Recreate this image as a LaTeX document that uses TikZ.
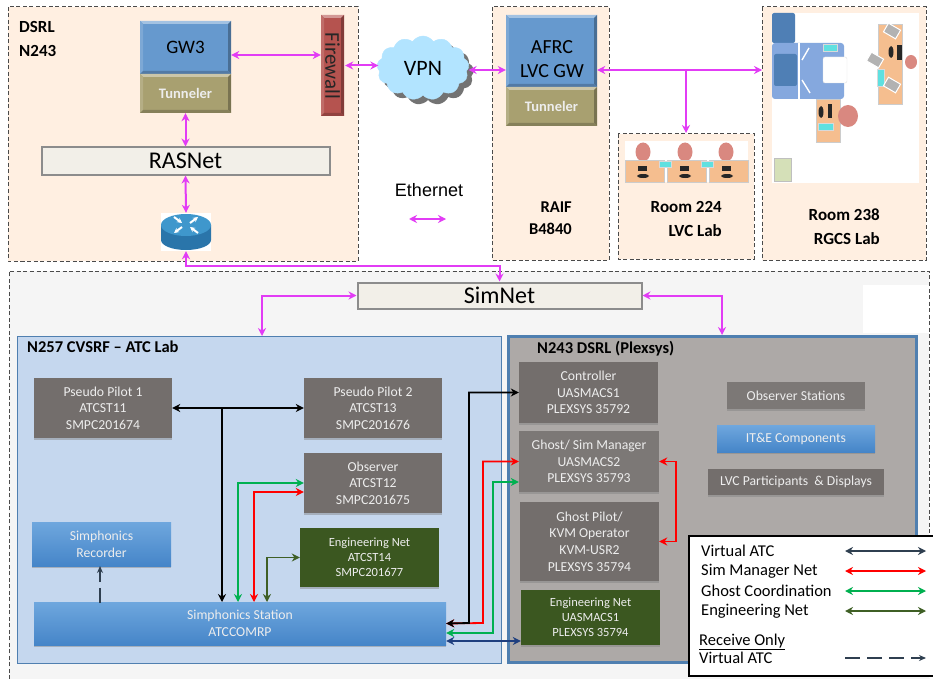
\documentclass[tikz,border=0pt]{standalone}
\usepackage{fontspec}
\setmainfont{Carlito}
\newfontfamily\arialfont{Liberation Sans}
\usetikzlibrary{arrows.meta,shapes.symbols,shadows,calc}
\definecolor{peach}{HTML}{FFEFE1}
\definecolor{dashc}{HTML}{4A4A4A}
\definecolor{magc}{HTML}{E23CF5}
\definecolor{grayb}{HTML}{736E6C}
\definecolor{grayc}{HTML}{7C7876}
\definecolor{engb}{HTML}{3B5720}
\definecolor{blt}{HTML}{6FA7DE}
\definecolor{blb}{HTML}{4585C8}
\definecolor{gwb}{HTML}{6699CE}
\definecolor{tunb}{HTML}{A8A070}
\definecolor{fwb}{HTML}{B5534F}
\definecolor{netf}{HTML}{F2EFE8}
\definecolor{labf}{HTML}{C5D7EE}
\definecolor{plxf}{HTML}{ADA9A7}
\definecolor{frameb}{HTML}{4F7FB0}
\definecolor{gcol}{HTML}{00B050}
\definecolor{ecol}{HTML}{3F5F25}
\definecolor{vcol}{HTML}{2F3F50}
\definecolor{ncol}{HTML}{1F3F7F}
\definecolor{deskc}{HTML}{F5BE8F}
\definecolor{chairc}{HTML}{D98880}
\definecolor{tagc}{HTML}{5FE0E0}
\definecolor{furnd}{HTML}{4F7FB5}
\definecolor{furnl}{HTML}{85A8DE}
\definecolor{rtop}{HTML}{3F97CC}
\definecolor{rbody}{HTML}{2A75AA}
\definecolor{spare}{HTML}{D5E0B8}
\newcommand\fs[2]{\fontsize{#1}{#2}\selectfont}
\tikzset{
  zone/.style={fill=peach,draw=dashc,line width=1pt,dash pattern=on 4pt off 2.5pt},
  eth/.style={draw=magc,line width=2pt,{Stealth[length=8pt,width=8pt]}-{Stealth[length=8pt,width=8pt]}},
  conn/.style={line width=1.8pt,{Stealth[length=8pt,width=8pt]}-{Stealth[length=8pt,width=8pt]}},
  card/.style={align=center,inner sep=0pt,text=white!93!black,font=\fs{13.7}{16.6},drop shadow={shadow xshift=0pt,shadow yshift=-2pt,opacity=.45}},
  graycard/.style={card,fill=grayb},
  engcard/.style={card,fill=engb,font=\fs{12.5}{15}},
  bluecard/.style={card,top color=blt,bottom color=blb},
  netbar/.style={fill=netf,draw=black!45,line width=2pt,inner sep=0pt},
  bevelnode/.style={inner sep=0pt,align=center},
  roomlabel/.style={align=right,font=\bfseries\fs{17}{24},inner sep=0pt,anchor=east},
  title/.style={font=\bfseries\fs{16.5}{20},inner sep=0pt,anchor=west},
  legtext/.style={font=\fs{16.5}{20},inner sep=0pt,anchor=west},
  desk/.style={fill=deskc,draw=black!20,line width=.5pt},
  chair/.style={fill=chairc},
  tag/.style={fill=tagc,draw=black!15,line width=.3pt},
  blk/.style={fill=black!85},
  laptop/.style={fill=black!30,draw=white,line width=1pt},
  routerarrow/.style={white,line width=2pt,-{Stealth[length=5pt,width=5pt]}}
}
\newcommand\bevelbox[7]{%
  \fill[#6] (#2,#3) rectangle (#4,#5);
  \fill[#6!60!white] (#2,#3) -- (#4,#3) -- ({#4-3},{#3+3}) -- ({#2+3},{#3+3}) -- cycle;
  \fill[#6!85!white] (#2,#3) -- ({#2+3},{#3+3}) -- ({#2+3},{#5-3}) -- (#2,#5) -- cycle;
  \fill[#6!72!black] (#4,#3) -- ({#4-3},{#3+3}) -- ({#4-3},{#5-3}) -- (#4,#5) -- cycle;
  \fill[#6!80!black] (#2,#5) -- ({#2+3},{#5-3}) -- ({#4-3},{#5-3}) -- (#4,#5) -- cycle;
  \node[bevelnode,minimum width={(#4-#2)*1pt},minimum height={(#5-#3)*1pt}] (#1) at ({(#2+#4)/2},{(#3+#5)/2}) {#7};
}
\begin{document}
\begin{tikzpicture}[x=1pt,y=-1pt]
\useasboundingbox (0,0) rectangle (933,679);
% zones
\fill[white] (0,0) rectangle (933,679);
\path[zone] (8,7) rectangle (358,261);
\path[zone] (492,7) rectangle (609,260);
\path[zone] (618,134) rectangle (754,259);
\path[zone] (762,7) rectangle (926,260);
\fill[black!4] (9,271) rectangle (929,679);
\fill[white] (863,285) rectangle (929,333);
\draw[dashc,line width=1pt,dash pattern=on 4pt off 2.5pt] (9,679) -- (9,271) -- (929,271) -- (929,679);
% DSRL
\node[title,font=\bfseries\fs{17}{24},align=left] (dsrl) at (19,39) {DSRL\\N243};
\bevelbox{gw}{140}{21}{231}{74}{gwb}{\fs{19}{24}\raisebox{-6pt}{GW3}}
\bevelbox{tun}{140}{74}{231}{113}{tunb}{\color{white!93!black}\bfseries\fs{14.5}{18}Tunneler}
\bevelbox{fw}{321}{15}{344}{116}{fwb}{}
\node[rotate=-90,inner sep=0pt,text=black!85,font=\fs{21}{24}] (fwlabel) at (332.5,66) {Firewall};
\node[netbar,minimum width=288pt,minimum height=27pt] (ras) at (185.5,161) {\raisebox{-4pt}{\fs{24}{28}RASNet}};
% router
\node[fill=white,inner sep=0pt,minimum width=50pt,minimum height=38pt] (router) at (186,232) {};
\fill[rbody] (161,225) -- (161,240) arc[start angle=180,end angle=0,x radius=25,y radius=10] -- (211,225) -- cycle;
\fill[rtop] (186,225) ellipse[x radius=25,y radius=11];
\draw[routerarrow] (174,217) -- (182,223);
\draw[routerarrow] (190,223) -- (198,217);
\draw[routerarrow] (182,227) -- (174,233);
\draw[routerarrow] (198,233) -- (190,227);
% VPN
\node[cloud,cloud puffs=13,cloud puff arc=115,aspect=1.45,fill=blue!35!cyan!30,draw=blue!35!cyan!30,inner sep=0pt,minimum width=92pt,minimum height=64pt,drop shadow={shadow xshift=5pt,shadow yshift=-5pt,fill=black!55,opacity=1}] (vpn) at (423,68) {\raisebox{-7pt}{\fs{22}{28}VPN}};
% Ethernet legend
\node[inner sep=0pt,font=\arialfont\fontsize{18}{20}\selectfont] (ethl) at (429,190) {Ethernet};
\coordinate (ethA) at (409,219);
\coordinate (ethB) at (446,219);
\draw[eth] (ethA) -- (ethB);
% RAIF
\bevelbox{afrc}{506}{15}{597}{87}{gwb}{}
\node[inner sep=0pt,align=center,font=\fs{20}{24.5}] (afrclabel) at (552,59) {AFRC\\LVC GW};
\bevelbox{tunr}{506}{87}{597}{126}{tunb}{\color{white!93!black}\bfseries\fs{14.5}{18}Tunneler}
\node[roomlabel,font=\bfseries\fs{16.5}{22}] (raif) at (572,218) {RAIF\\B4840};
% Room 224
\fill[white] (625,141) rectangle (748,182);
\foreach \cx/\dx in {643/625,685/667,726/709}{
  \fill[chair] (\cx,152) ellipse[x radius=7.5,y radius=9.5];
  \path[desk] (\dx,160) rectangle ({\dx+39},182);
  \fill[blk] ({\dx+13},166) rectangle ({\dx+22},171);
  \fill[blk] ({\dx+18},176) ellipse[x radius=6,y radius=2];
}
\foreach \tx in {665,707}{\path[tag] ({\tx-6},161) rectangle ({\tx+6},167);}
\node[roomlabel] (r224) at (722,219) {Room 224\\LVC Lab};
% Room 238
\fill[white] (772,13) rectangle (919,183);
\fill[furnd,rounded corners=2pt] (772,13) rectangle (795,43);
\fill[furnl,rounded corners=3pt] (772,43) rectangle (844,99);
\fill[furnd,rounded corners=2pt] (774,54) rectangle (797,86);
\draw[white,line width=2.5pt] (799,43) -- (799,99);
\draw[white,line width=1.4pt] (809,48) -- (802,60) (802,80) -- (810,93);
\fill[white,draw=black!12,rounded corners=2pt] (823,57) rectangle (847,83);
\path[tag] (823,44) rectangle (837,51);
\path[desk] (816,99) rectangle (840,142);
\fill[blk] (828,104) rectangle (832,118);
\fill[blk] (821,112) ellipse[x radius=2.5,y radius=6];
\path[tag] (818,123) rectangle (833,130);
\fill[chair] (848,116) ellipse[x radius=10,y radius=11];
\path[desk] (878,24) rectangle (902,104);
\fill[blk] (897,45) rectangle (902,60);
\fill[blk] (891,52) ellipse[x radius=2.5,y radius=6];
\path[tag] (877,69) rectangle (884,86);
\fill[chair] (911,62) ellipse[x radius=6,y radius=7];
\foreach \lx/\ly in {892/31,875/60,892/85}{
  \path[laptop,rotate around={-30:(\lx,\ly)}] ({\lx-7},{\ly-5}) rectangle ({\lx+7},{\ly+5});
}
\path[fill=spare,draw=black!25] (774,158) rectangle (791,181);
\node[roomlabel] (r238) at (880,227) {Room 238\\RGCS Lab};
% SimNet
\node[netbar,minimum width=284pt,minimum height=26pt] (simnet) at (499.5,295.5) {\raisebox{-3pt}{\fs{24}{26}SimNet}};
% lab frames
\path[fill=labf,draw=frameb,line width=1pt] (17,336) rectangle (501,663);
\path[fill=plxf,draw=frameb,line width=3pt] (508,336) rectangle (916,662);
\node[title] (t257) at (27,347) {N257 CVSRF -- ATC Lab};
\node[title] (t243) at (537,349) {N243 DSRL (Plexsys)};
\coordinate (in257) at (262,336);
\coordinate (in243) at (722,335);
% left cards
\node[graycard,minimum width=138pt,minimum height=60pt] (pp1) at (103,408) {Pseudo Pilot 1\\ATCST11\\SMPC201674};
\node[graycard,minimum width=138pt,minimum height=60pt] (pp2) at (373,408) {Pseudo Pilot 2\\ATCST13\\SMPC201676};
\node[graycard,minimum width=138pt,minimum height=60pt] (obs) at (373,483) {Observer\\ATCST12\\SMPC201675};
\node[engcard,minimum width=139pt,minimum height=59pt] (eng1) at (369.5,557.5) {Engineering Net\\ATCST14\\SMPC201677};
\node[bluecard,minimum width=139pt,minimum height=44pt] (rec) at (101.5,544) {Simphonics\\Recorder};
\node[bluecard,minimum width=412pt,minimum height=43pt] (stn) at (240,623.5) {Simphonics Station\\ATCCOMRP};
% right cards
\node[graycard,minimum width=139pt,minimum height=61pt] (ctl) at (588.5,392.5) {Controller\\UASMACS1\\PLEXSYS 35792};
\node[graycard,fill=grayc,minimum width=140pt,minimum height=61pt] (gsm) at (589,461.5) {Ghost/ Sim Manager\\UASMACS2\\PLEXSYS 35793};
\node[graycard,minimum width=139pt,minimum height=79pt] (gpl) at (589.5,541.5) {Ghost Pilot/\\KVM Operator\\KVM-USR2\\PLEXSYS 35794};
\node[engcard,minimum width=139pt,minimum height=55pt] (eng2) at (590.5,617.5) {Engineering Net\\UASMACS1\\PLEXSYS 35794};
\node[graycard,fill=grayc,minimum width=138pt,minimum height=27pt] (ost) at (796,395.5) {Observer Stations};
\node[bluecard,minimum width=158pt,minimum height=27pt] (ite) at (796,438.5) {\raisebox{-1pt}{IT\&E Components}};
\node[graycard,minimum width=176pt,minimum height=26pt] (lvc) at (796,482) {\raisebox{-1.5pt}{LVC Participants~ \& Displays}};
% ethernet connectors
\draw[eth] ([yshift=-7.5pt]gw.east) -- ([yshift=-7.5pt]gw.east -| fw.west);
\draw[eth] ([xshift=1pt]fw.east) -- ([xshift=1pt]fw.east -| vpn.west);
\draw[eth] (tun.south) -- (tun.south |- ras.north);
\draw[eth] (ras.south) -- (router.north);
\coordinate (bus) at (300,266);
\draw[eth] (router.south) -- (router.south |- bus) -- (simnet.north |- bus) -- (simnet.north);
\draw[eth] (simnet.west) -| (in257);
\draw[eth] (simnet.east) -| (in243);
\coordinate (gwbus) at (600,70);
\coordinate (rm238) at (762,70);
\coordinate (branch) at (686,70);
\coordinate (rm224) at (686,133);
\draw[eth] (vpn.east |- gwbus) -- (gwbus -| afrc.west);
\draw[eth] (gwbus -| afrc.east) -- (rm238);
\draw[draw=magc,line width=2pt,-{Stealth[length=8pt,width=8pt]}] (branch) -- (rm224);
% N257 connectors
\coordinate (stopA) at (222,602);
\coordinate (stopG) at (238,602);
\coordinate (stopR) at (254,602);
\coordinate (stopE) at (267,602);
\draw[conn] (pp1.east) -- (pp2.west);
\draw[line width=1.8pt,-{Stealth[length=8pt,width=8pt]}] (stopA |- pp1.east) -- (stopA);
\draw[conn,gcol] (stopG) |- (obs.west);
\draw[conn,red] (stopR) |- ([yshift=-9pt]obs.west);
\draw[conn,ecol] (stopE) |- (eng1.west);
\coordinate (dashtop) at (100,566);
\coordinate (dashbot) at (100,603);
\draw[vcol,line width=1.5pt,dash pattern=on 15pt off 6pt,-{Stealth[length=7pt,width=6pt]}] (dashbot) -- (dashtop);
% N243 connectors
\coordinate (vblack) at (469,623);
\coordinate (vred) at (483,623);
\coordinate (vgreen) at (493,633);
\coordinate (vnavy) at (480,641);
\coordinate (vside) at (676,500);
\draw[conn,red] (stn.east) -- (vred) |- (gsm.west);
\draw[conn,gcol] (stn.east |- vgreen) -- (vgreen) |- ([yshift=-20.5pt]gsm.west);
\draw[conn] (stn.east) -- (vblack) |- (ctl.west);
\draw[conn,ncol] (stn.east |- vnavy) -- (eng2.west |- vnavy);
\draw[conn,red] (gsm.east) -- (gsm.east -| vside) -- (gpl.east -| vside) -- (gpl.east);
% legend
\path[fill=white,draw=black,line width=1.3pt] (689,536) rectangle (940,676);
\node[legtext] (lg1) at (701,551) {Virtual ATC};
\node[legtext] (lg2) at (701,571) {Sim Manager Net};
\node[legtext] (lg3) at (701,591) {Ghost Coordination};
\node[legtext] (lg4) at (701,611) {Engineering Net};
\node[legtext] (lg5) at (699,642) {\underline{Receive Only}};
\node[legtext] (lg6) at (699,658) {Virtual ATC};
\coordinate (lgL) at (845,0);
\coordinate (lgR) at (926,0);
\draw[conn,vcol,line width=1.5pt] (lgL |- lg1) -- (lgR |- lg1);
\draw[conn,red,line width=1.5pt] (lgL |- lg2) -- (lgR |- lg2);
\draw[conn,gcol,line width=1.5pt] (lgL |- lg3) -- (lgR |- lg3);
\draw[conn,ecol,line width=1.5pt] (lgL |- lg4) -- (lgR |- lg4);
\draw[vcol,line width=1.5pt,dash pattern=on 15pt off 7pt,-{Stealth[length=7pt,width=6pt]}] (lgL |- lg6) -- (lgR |- lg6);
\end{tikzpicture}
\end{document}
